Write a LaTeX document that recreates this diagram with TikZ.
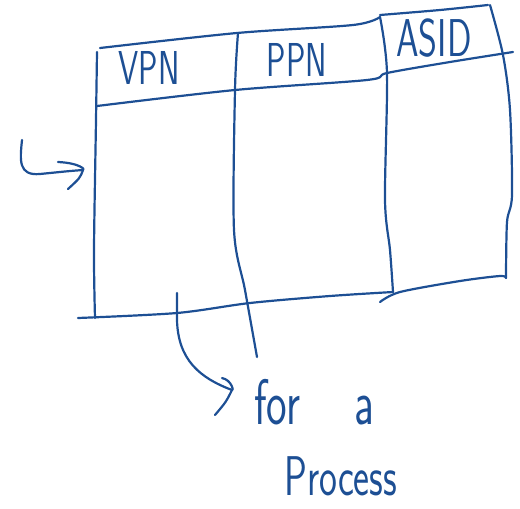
\documentclass[tikz,border=0pt]{standalone}
\usetikzlibrary{positioning}
\definecolor{inkblue}{HTML}{1D4F94}

\tikzset{ink/.style={draw=inkblue, line width=2.2pt, line cap=round, line join=round},
hand/.style={text=inkblue, font=\sffamily, inner sep=0pt}}
\newcommand{\tallt}[1]{\scalebox{0.95}[1.4]{#1}}

\begin{document}
\begin{tikzpicture}[x=1pt,y=-1pt]
\useasboundingbox (0,0) rectangle (520,509);
% table outline
\draw[ink] plot[smooth] coordinates {(100,48) (237,33) (353,25) (380,17)};
\draw[ink] plot[smooth] coordinates {(380,15) (440,10) (488,5)};
\draw[ink] plot[smooth] coordinates {(97,52) (96,120) (94,250) (95,318)};
\draw[ink] plot[smooth] coordinates {(97,106) (235,90) (367,80) (387,73) (450,62) (513,52)};
\draw[ink] plot[smooth] coordinates {(238,33) (235,90) (234,230) (245,290) (257,357)};
\draw[ink] plot[smooth] coordinates {(380,17) (387,73) (385,200) (390,250) (393,292)};
\draw[ink] plot[smooth] coordinates {(490,5) (503,55) (510,110) (512,195) (507,222) (506,278)};
\draw[ink] plot[smooth] coordinates {(393,292) (330,296) (250,303) (177,313) (78,318)};
\draw[ink] plot[smooth] coordinates {(380,302) (400,292) (460,281) (500,276) (506,278)};
% headers
\node[hand, font=\sffamily\fontsize{34}{34}\selectfont] (vpn) at (149,68) {\tallt{VPN}};
\node[hand, font=\sffamily\fontsize{34}{34}\selectfont] (ppn) at (297,60) {\tallt{PPN}};
\node[hand, font=\sffamily\fontsize{38}{38}\selectfont] (asid) at (434,38) {\tallt{ASID}};
% labels
\node[hand, font=\sffamily\fontsize{46}{46}\selectfont, anchor=west] (fora) at (254,402) {\tallt{for\ \ \ \ a}};
\node[hand, font=\sffamily\fontsize{40}{40}\selectfont, anchor=west] (proc) at (284,476) {\tallt{Process}};
% arrows
\coordinate (hook) at (22,140);
\coordinate (rowin) at (83,170);
\draw[ink] (hook) .. controls (20,160) and (18,176) .. (40,174) -- (60,172) .. controls (70,171) .. (rowin);
\draw[ink] (58,162) .. controls (80,163) and (86,170) .. (rowin) .. controls (80,178) .. (68,189);
\coordinate (start) at (177,293);
\coordinate (tip) at (232,390);
\draw[ink] (start) -- (177,320) .. controls (178,360) and (200,378) .. (tip);
\draw[ink] (222,378) .. controls (232,380) and (234,392) .. (tip) .. controls (226,402) .. (215,415);
\end{tikzpicture}
\end{document}
